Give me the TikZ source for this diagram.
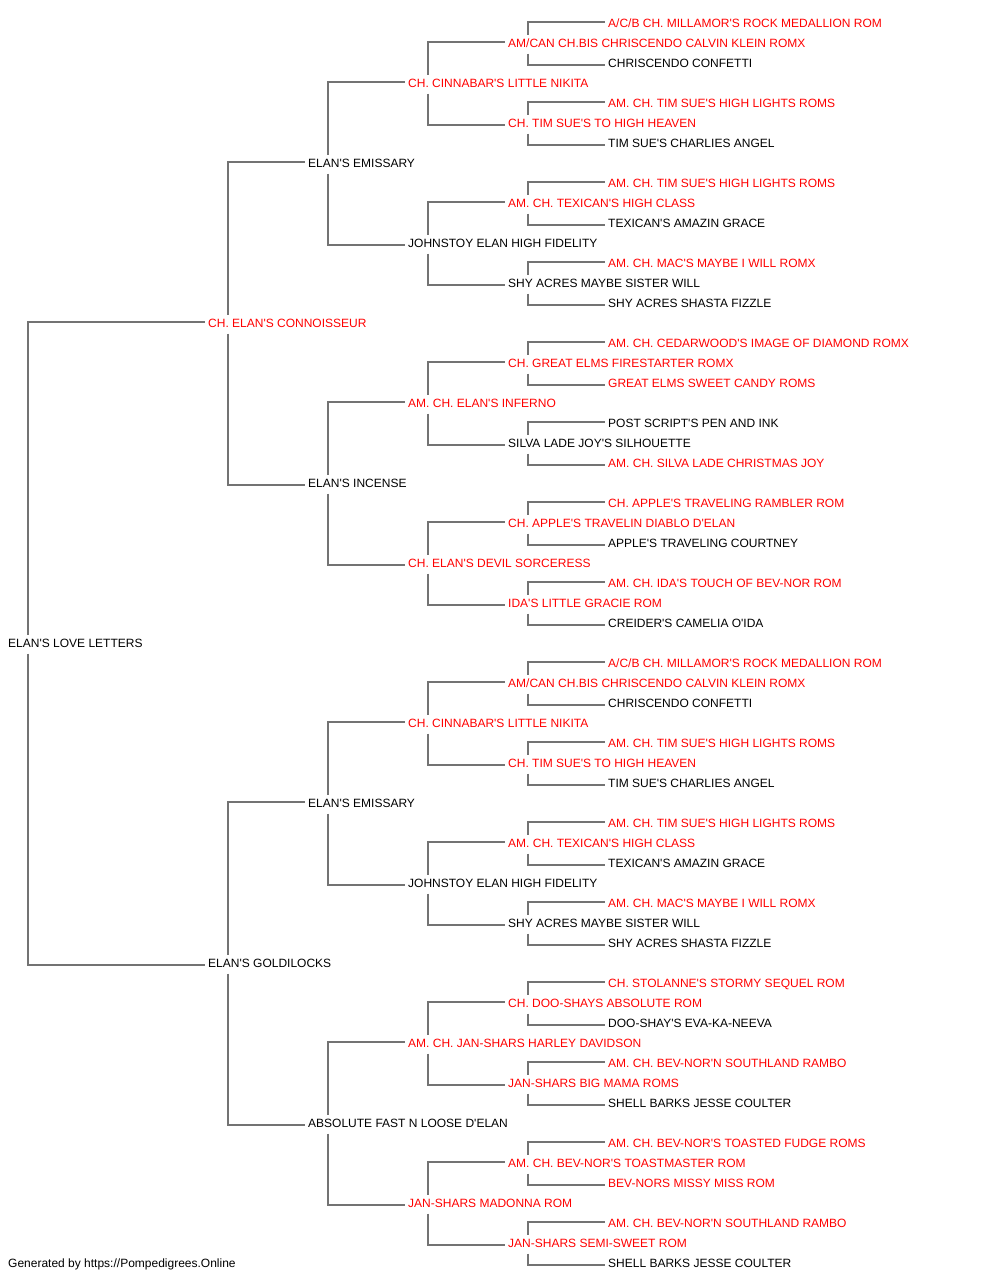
\documentclass[tikz,border=0pt]{standalone}
\usepackage{fontspec}
\setmainfont{Liberation Sans}[Ligatures=TeXOff]
\tikzset{
  dog/.style={anchor=west, inner sep=0pt, text height=9pt, text depth=0pt, font=\fontsize{12}{14}\selectfont},
  reddog/.style={dog, text=red},
  sire/.style={draw=black!55, line width=1.5pt, to path={([xshift=20pt,yshift=3.5pt]\tikztostart.north west) |- ([xshift=-3pt,yshift=1pt]\tikztotarget.west)}},
  dam/.style={draw=black!55, line width=1.5pt, to path={([xshift=20pt,yshift=-6pt]\tikztostart.south west) |- ([xshift=-3pt,yshift=-2pt]\tikztotarget.west)}}
}
\begin{document}
\begin{tikzpicture}[x=1pt, y=-1pt]
  \useasboundingbox (0,0) rectangle (1000,1280);

  \node[reddog] (0) at (608,23) {A/C/B CH. MILLAMOR'S ROCK MEDALLION ROM};
  \node[reddog] (1) at (508,43) {AM/CAN CH.BIS CHRISCENDO CALVIN KLEIN ROMX};
  \node[dog] (2) at (608,63) {CHRISCENDO CONFETTI};
  \node[reddog] (3) at (408,83) {CH. CINNABAR'S LITTLE NIKITA};
  \node[reddog] (4) at (608,103) {AM. CH. TIM SUE'S HIGH LIGHTS ROMS};
  \node[reddog] (5) at (508,123) {CH. TIM SUE'S TO HIGH HEAVEN};
  \node[dog] (6) at (608,143) {TIM SUE'S CHARLIES ANGEL};
  \node[dog] (7) at (308,163) {ELAN'S EMISSARY};
  \node[reddog] (8) at (608,183) {AM. CH. TIM SUE'S HIGH LIGHTS ROMS};
  \node[reddog] (9) at (508,203) {AM. CH. TEXICAN'S HIGH CLASS};
  \node[dog] (10) at (608,223) {TEXICAN'S AMAZIN GRACE};
  \node[dog] (11) at (408,243) {JOHNSTOY ELAN HIGH FIDELITY};
  \node[reddog] (12) at (608,263) {AM. CH. MAC'S MAYBE I WILL ROMX};
  \node[dog] (13) at (508,283) {SHY ACRES MAYBE SISTER WILL};
  \node[dog] (14) at (608,303) {SHY ACRES SHASTA FIZZLE};
  \node[reddog] (15) at (208,323) {CH. ELAN'S CONNOISSEUR};
  \node[reddog] (16) at (608,343) {AM. CH. CEDARWOOD'S IMAGE OF DIAMOND ROMX};
  \node[reddog] (17) at (508,363) {CH. GREAT ELMS FIRESTARTER ROMX};
  \node[reddog] (18) at (608,383) {GREAT ELMS SWEET CANDY ROMS};
  \node[reddog] (19) at (408,403) {AM. CH. ELAN'S INFERNO};
  \node[dog] (20) at (608,423) {POST SCRIPT'S PEN AND INK};
  \node[dog] (21) at (508,443) {SILVA LADE JOY'S SILHOUETTE};
  \node[reddog] (22) at (608,463) {AM. CH. SILVA LADE CHRISTMAS JOY};
  \node[dog] (23) at (308,483) {ELAN'S INCENSE};
  \node[reddog] (24) at (608,503) {CH. APPLE'S TRAVELING RAMBLER ROM};
  \node[reddog] (25) at (508,523) {CH. APPLE'S TRAVELIN DIABLO D'ELAN};
  \node[dog] (26) at (608,543) {APPLE'S TRAVELING COURTNEY};
  \node[reddog] (27) at (408,563) {CH. ELAN'S DEVIL SORCERESS};
  \node[reddog] (28) at (608,583) {AM. CH. IDA'S TOUCH OF BEV-NOR ROM};
  \node[reddog] (29) at (508,603) {IDA'S LITTLE GRACIE ROM};
  \node[dog] (30) at (608,623) {CREIDER'S CAMELIA O'IDA};
  \node[dog] (31) at (8,643) {ELAN'S LOVE LETTERS};
  \node[reddog] (32) at (608,663) {A/C/B CH. MILLAMOR'S ROCK MEDALLION ROM};
  \node[reddog] (33) at (508,683) {AM/CAN CH.BIS CHRISCENDO CALVIN KLEIN ROMX};
  \node[dog] (34) at (608,703) {CHRISCENDO CONFETTI};
  \node[reddog] (35) at (408,723) {CH. CINNABAR'S LITTLE NIKITA};
  \node[reddog] (36) at (608,743) {AM. CH. TIM SUE'S HIGH LIGHTS ROMS};
  \node[reddog] (37) at (508,763) {CH. TIM SUE'S TO HIGH HEAVEN};
  \node[dog] (38) at (608,783) {TIM SUE'S CHARLIES ANGEL};
  \node[dog] (39) at (308,803) {ELAN'S EMISSARY};
  \node[reddog] (40) at (608,823) {AM. CH. TIM SUE'S HIGH LIGHTS ROMS};
  \node[reddog] (41) at (508,843) {AM. CH. TEXICAN'S HIGH CLASS};
  \node[dog] (42) at (608,863) {TEXICAN'S AMAZIN GRACE};
  \node[dog] (43) at (408,883) {JOHNSTOY ELAN HIGH FIDELITY};
  \node[reddog] (44) at (608,903) {AM. CH. MAC'S MAYBE I WILL ROMX};
  \node[dog] (45) at (508,923) {SHY ACRES MAYBE SISTER WILL};
  \node[dog] (46) at (608,943) {SHY ACRES SHASTA FIZZLE};
  \node[dog] (47) at (208,963) {ELAN'S GOLDILOCKS};
  \node[reddog] (48) at (608,983) {CH. STOLANNE'S STORMY SEQUEL ROM};
  \node[reddog] (49) at (508,1003) {CH. DOO-SHAYS ABSOLUTE ROM};
  \node[dog] (50) at (608,1023) {DOO-SHAY'S EVA-KA-NEEVA};
  \node[reddog] (51) at (408,1043) {AM. CH. JAN-SHARS HARLEY DAVIDSON};
  \node[reddog] (52) at (608,1063) {AM. CH. BEV-NOR'N SOUTHLAND RAMBO};
  \node[reddog] (53) at (508,1083) {JAN-SHARS BIG MAMA ROMS};
  \node[dog] (54) at (608,1103) {SHELL BARKS JESSE COULTER};
  \node[dog] (55) at (308,1123) {ABSOLUTE FAST N LOOSE D'ELAN};
  \node[reddog] (56) at (608,1143) {AM. CH. BEV-NOR'S TOASTED FUDGE ROMS};
  \node[reddog] (57) at (508,1163) {AM. CH. BEV-NOR'S TOASTMASTER ROM};
  \node[reddog] (58) at (608,1183) {BEV-NORS MISSY MISS ROM};
  \node[reddog] (59) at (408,1203) {JAN-SHARS MADONNA ROM};
  \node[reddog] (60) at (608,1223) {AM. CH. BEV-NOR'N SOUTHLAND RAMBO};
  \node[reddog] (61) at (508,1243) {JAN-SHARS SEMI-SWEET ROM};
  \node[dog] (62) at (608,1263) {SHELL BARKS JESSE COULTER};
  \node[dog] (footer) at (8,1263) {Generated by https://Pompedigrees.Online};

  \draw[sire] (31) to (15);
  \draw[dam] (31) to (47);
  \draw[sire] (15) to (7);
  \draw[dam] (15) to (23);
  \draw[sire] (47) to (39);
  \draw[dam] (47) to (55);
  \draw[sire] (7) to (3);
  \draw[dam] (7) to (11);
  \draw[sire] (23) to (19);
  \draw[dam] (23) to (27);
  \draw[sire] (39) to (35);
  \draw[dam] (39) to (43);
  \draw[sire] (55) to (51);
  \draw[dam] (55) to (59);
  \draw[sire] (3) to (1);
  \draw[dam] (3) to (5);
  \draw[sire] (11) to (9);
  \draw[dam] (11) to (13);
  \draw[sire] (19) to (17);
  \draw[dam] (19) to (21);
  \draw[sire] (27) to (25);
  \draw[dam] (27) to (29);
  \draw[sire] (35) to (33);
  \draw[dam] (35) to (37);
  \draw[sire] (43) to (41);
  \draw[dam] (43) to (45);
  \draw[sire] (51) to (49);
  \draw[dam] (51) to (53);
  \draw[sire] (59) to (57);
  \draw[dam] (59) to (61);
  \draw[sire] (1) to (0);
  \draw[dam] (1) to (2);
  \draw[sire] (5) to (4);
  \draw[dam] (5) to (6);
  \draw[sire] (9) to (8);
  \draw[dam] (9) to (10);
  \draw[sire] (13) to (12);
  \draw[dam] (13) to (14);
  \draw[sire] (17) to (16);
  \draw[dam] (17) to (18);
  \draw[sire] (21) to (20);
  \draw[dam] (21) to (22);
  \draw[sire] (25) to (24);
  \draw[dam] (25) to (26);
  \draw[sire] (29) to (28);
  \draw[dam] (29) to (30);
  \draw[sire] (33) to (32);
  \draw[dam] (33) to (34);
  \draw[sire] (37) to (36);
  \draw[dam] (37) to (38);
  \draw[sire] (41) to (40);
  \draw[dam] (41) to (42);
  \draw[sire] (45) to (44);
  \draw[dam] (45) to (46);
  \draw[sire] (49) to (48);
  \draw[dam] (49) to (50);
  \draw[sire] (53) to (52);
  \draw[dam] (53) to (54);
  \draw[sire] (57) to (56);
  \draw[dam] (57) to (58);
  \draw[sire] (61) to (60);
  \draw[dam] (61) to (62);
\end{tikzpicture}
\end{document}
